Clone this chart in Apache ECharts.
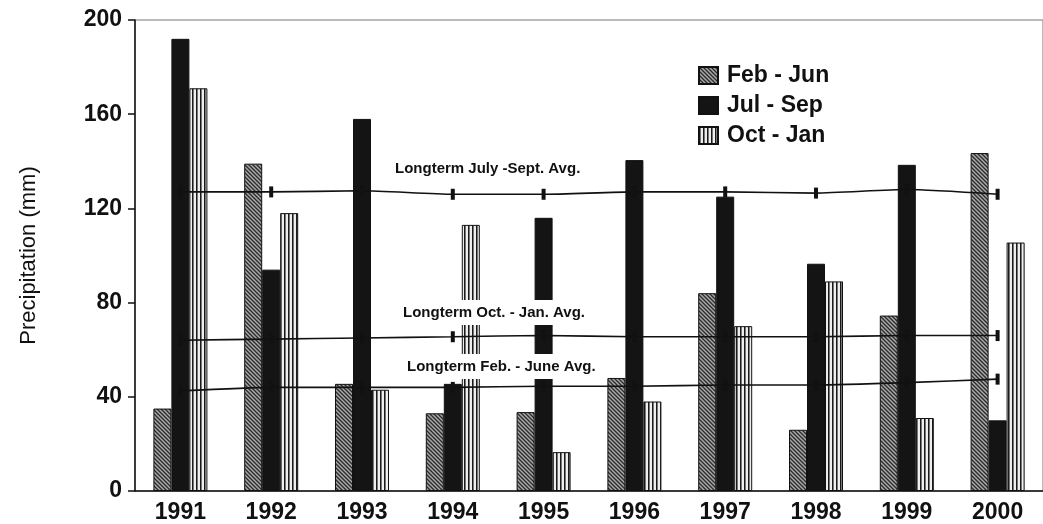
<!DOCTYPE html>
<html>
<head>
<meta charset="utf-8">
<script src="https://cdn.jsdelivr.net/npm/echarts@6/dist/echarts.min.js"></script>
<style>
    html, body { margin: 0; padding: 0; background: #fff; }
    #chart { width: 1043px; height: 524px; }
</style>
</head>
<body>
<div id="chart"></div>
<script>
(function () {

    'use strict';

    var years = ['1991', '1992', '1993', '1994', '1995', '1996', '1997', '1998', '1999', '2000'];

    var febJun = [35, 139, 45.5, 33, 33.5, 48, 84, 26, 74.5, 143.5];
    var julSep = [192, 94, 158, 45.5, 116, 140.5, 125, 96.5, 138.5, 30];
    var octJan = [171, 118, 43, 113, 16.5, 38, 70, 89, 31, 105.5];

    // longterm averages
    var avgJulSep = [127, 127, 127.5, 126, 126, 127, 127, 126.5, 128, 126];
    var avgOctJan = [64, 64.5, 65, 65.5, 66, 65.5, 65.5, 65.5, 66, 66];
    var avgFebJun = [42.5, 44, 44, 44, 44.5, 44.5, 45, 45, 46, 47.5];

    var font = 'Liberation Sans, Arial, sans-serif';

    // diagonal hatch for Feb - Jun
    function hatch() {
        var c = document.createElement('canvas');
        c.width = 4; c.height = 4;
        var ctx = c.getContext('2d');
        ctx.fillStyle = '#a8a8a8';
        ctx.fillRect(0, 0, 4, 4);
        ctx.strokeStyle = '#2a2a2a';
        ctx.lineWidth = 1.3;
        ctx.beginPath();
        ctx.moveTo(-1, -1); ctx.lineTo(5, 5);
        ctx.moveTo(-3, 1); ctx.lineTo(1, 5);
        ctx.moveTo(3, -1); ctx.lineTo(5, 1);
        ctx.stroke();
        return c;
    }

    // vertical stripes for Oct - Jan
    function stripes() {
        var c = document.createElement('canvas');
        c.width = 4; c.height = 4;
        var ctx = c.getContext('2d');
        ctx.fillStyle = '#eeeeee';
        ctx.fillRect(0, 0, 4, 4);
        ctx.fillStyle = '#1a1a1a';
        ctx.fillRect(0, 0, 1, 4);
        ctx.fillStyle = '#777';
        ctx.fillRect(1, 0, 1, 4);
        return c;
    }

    function barSeries(name, data, color) {
        return {
            name: name,
            type: 'bar',
            data: data,
            barWidth: 18,
            barGap: '0%',
            itemStyle: {
                color: color,
                borderColor: '#111',
                borderWidth: 1
            }
        };
    }

    function avgSeries(name, data) {
        return {
            name: name,
            type: 'line',
            data: data,
            smooth: 0.2,
            symbol: 'rect',
            symbolSize: [4, 11],
            showAllSymbol: true,
            lineStyle: { color: '#111', width: 1.6 },
            itemStyle: { color: '#111' },
            z: 5
        };
    }

    function lineLabel(text, x, y) {
        return {
            type: 'text',
            left: x - 2,
            top: y - 5,
            z: 100,
            style: {
                text: text,
                font: 'bold 15px ' + font,
                fill: '#111',
                backgroundColor: '#fff',
                padding: [5, 2, 5, 2]
            }
        };
    }

    var chart = echarts.init(document.getElementById('chart'));

    var option = {
        backgroundColor: '#fff',
        animation: false,
        grid: {
            left: 135,
            top: 20,
            bottom: 32,
            right: -8,
            show: true,
            borderColor: '#777',
            borderWidth: 1
        },
        legend: {
            data: ['Feb - Jun', 'Jul - Sep', 'Oct - Jan'],
            orient: 'vertical',
            left: 693,
            top: 59,
            icon: 'rect',
            itemWidth: 19,
            itemHeight: 17,
            itemGap: 7,
            textStyle: {
                fontFamily: font,
                fontSize: 23,
                fontWeight: 'bold',
                color: '#111',
                lineHeight: 18,
                padding: [0, 0, 0, 4]
            }
        },
        xAxis: {
            type: 'category',
            data: years,
            axisLine: { lineStyle: { color: '#111', width: 1.5 } },
            axisTick: { show: false },
            axisLabel: {
                fontFamily: font,
                fontSize: 23,
                fontWeight: 'bold',
                color: '#111',
                margin: 10
            }
        },
        yAxis: {
            type: 'value',
            min: 0,
            max: 200,
            interval: 40,
            name: 'Precipitation (mm)',
            nameLocation: 'middle',
            nameGap: 95,
            nameTextStyle: {
                fontFamily: font,
                fontSize: 22,
                color: '#111'
            },
            splitLine: { show: false },
            axisLine: { show: true, lineStyle: { color: '#111', width: 1.5 } },
            axisTick: { show: true, length: 7, lineStyle: { color: '#111', width: 1.5 } },
            axisLabel: {
                fontFamily: font,
                fontSize: 23,
                fontWeight: 'bold',
                color: '#111',
                margin: 13
            }
        },
        graphic: [
            lineLabel('Longterm July -Sept. Avg.', 395, 161),
            lineLabel('Longterm Oct. - Jan. Avg.', 403, 305),
            lineLabel('Longterm Feb. - June Avg.', 407, 359)
        ],
        series: [
            barSeries('Feb - Jun', febJun, { image: hatch(), repeat: 'repeat' }),
            barSeries('Jul - Sep', julSep, '#141414'),
            barSeries('Oct - Jan', octJan, { image: stripes(), repeat: 'repeat' }),
            avgSeries('Longterm July -Sept. Avg.', avgJulSep),
            avgSeries('Longterm Oct. - Jan. Avg.', avgOctJan),
            avgSeries('Longterm Feb. - June Avg.', avgFebJun)
        ]
    };

    chart.setOption(option);
})();
</script>
</body>
</html>
